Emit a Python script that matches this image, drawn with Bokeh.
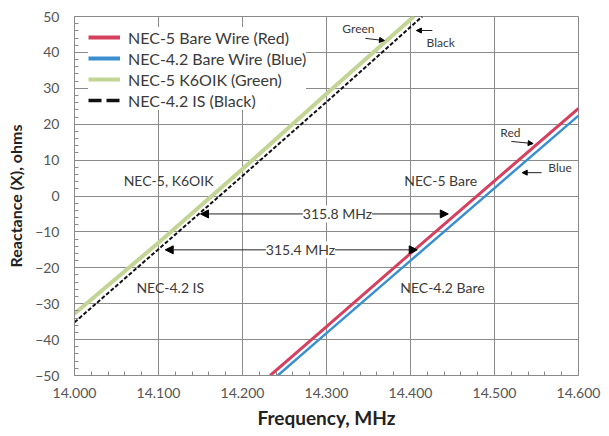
from bokeh.plotting import figure
from bokeh.models import (Range1d, FixedTicker, NumeralTickFormatter, Legend, LegendItem,
                          Label, Arrow, NormalHead)
from bokeh.embed import file_html
from bokeh.resources import INLINE

# ---- data ----
red_f = [14.233, 14.300, 14.400, 14.500, 14.600]
red_x = [-50.0, -36.4, -16.0, 4.2, 24.4]
blue_f = [14.242, 14.300, 14.400, 14.500, 14.600]
blue_x = [-50.0, -38.2, -18.0, 2.2, 22.4]
green_f = [14.000, 14.100, 14.200, 14.300, 14.404]
green_x = [-32.8, -13.0, 7.5, 28.5, 50.0]
black_f = [14.000, 14.100, 14.200, 14.300, 14.414]
black_x = [-35.2, -14.8, 5.6, 26.2, 50.0]

series_names = ["NEC-5 Bare Wire (Red)", "NEC-4.2 Bare Wire (Blue)",
                "NEC-5 K6OIK (Green)", "NEC-4.2 IS (Black)"]
x_ticks = [14.0, 14.1, 14.2, 14.3, 14.4, 14.5, 14.6]
y_ticks = [-50, -40, -30, -20, -10, 0, 10, 20, 30, 40, 50]

FONT = "Lato"
GRID = "#8a8a8a"
TXT = "#3a3a3a"
RED, BLUE, GREEN, BLACK = "#D6405F", "#3A8FD0", "#C2D594", "#111111"

p = figure(width=609, height=436, output_backend="svg", toolbar_location=None,
           x_range=Range1d(14.0, 14.6), y_range=Range1d(-50, 50),
           min_border_left=74, min_border_right=31, min_border_top=16, min_border_bottom=61,
           background_fill_color="white", border_fill_color="white")

p.outline_line_color = GRID
p.xgrid.grid_line_color = GRID
p.ygrid.grid_line_color = GRID

p.xaxis.ticker = FixedTicker(ticks=x_ticks, minor_ticks=[14.0 + 0.02 * i for i in range(31)])
p.yaxis.ticker = FixedTicker(ticks=y_ticks, minor_ticks=list(range(-50, 51, 2)))
p.xaxis.formatter = NumeralTickFormatter(format="0.000")

for ax in (p.xaxis, p.yaxis):
    ax.axis_line_color = GRID
    ax.major_tick_line_color = GRID
    ax.minor_tick_line_color = GRID
    ax.major_tick_in = 0
    ax.major_tick_out = 0
    ax.minor_tick_in = 4
    ax.minor_tick_out = 0
    ax.major_label_text_font = FONT
    ax.major_label_text_font_size = "14px"
    ax.major_label_text_color = "#555555"
    ax.axis_label_text_font = FONT
    ax.axis_label_text_font_style = "bold"
    ax.axis_label_text_color = "#222222"

p.xaxis.axis_label = "Frequency, MHz"
p.yaxis.axis_label = "Reactance (X), ohms"
p.xaxis.axis_label_text_font_size = "19px"
p.yaxis.axis_label_text_font_size = "16px"
p.xaxis.major_label_standoff = 12
p.xaxis.axis_label_standoff = 5
p.yaxis.major_label_standoff = 15
p.yaxis.axis_label_standoff = 7

g_green = p.line(green_f, green_x, line_color=GREEN, line_width=4)
g_black = p.line(black_f, black_x, line_color=BLACK, line_width=2, line_dash="4 2")
g_red = p.line(red_f, red_x, line_color=RED, line_width=3)
g_blue = p.line(blue_f, blue_x, line_color=BLUE, line_width=2.5)

# legend-only proxies (thicker strokes as in the reference legend); a single
# point line draws nothing on the plot itself
lg_red = p.line(red_f[:1], red_x[:1], line_color=RED, line_width=4)
lg_blue = p.line(blue_f[:1], blue_x[:1], line_color=BLUE, line_width=4)
lg_green = p.line(green_f[:1], green_x[:1], line_color=GREEN, line_width=4)
lg_black = p.line(black_f[:1], black_x[:1], line_color=BLACK, line_width=3.5, line_dash="13 5")

legend = Legend(items=[LegendItem(label=series_names[0], renderers=[lg_red]),
                       LegendItem(label=series_names[1], renderers=[lg_blue]),
                       LegendItem(label=series_names[2], renderers=[lg_green]),
                       LegendItem(label=series_names[3], renderers=[lg_black])],
                location=(14, 265), margin=0, padding=8, spacing=1,
                glyph_width=32, glyph_height=20, label_height=20, label_standoff=8,
                label_text_font=FONT, label_text_font_size="16px", label_text_color=TXT,
                border_line_color=None, background_fill_color="white", background_fill_alpha=1.0)
p.add_layout(legend, "center")

def lab(x, y, t, size="14px", align="center"):
    p.add_layout(Label(x=x, y=y, text=t, text_font=FONT, text_font_size=size,
                       text_color=TXT, text_align=align, text_baseline="middle"))

lab(14.112, 4.3, "NEC-5, K6OIK")
lab(14.436, 4.3, "NEC-5 Bare")
lab(14.114, -25.5, "NEC-4.2 IS")
lab(14.438, -25.5, "NEC-4.2 Bare")
lab(14.338, 46.7, "Green", "12px")
lab(14.436, 42.8, "Black", "12px")
lab(14.519, 17.6, "Red", "12px")
lab(14.578, 7.9, "Blue", "12px")

def arr(x0, y0, x1, y1, size=5, both=False):
    kw = dict(end=NormalHead(size=size, fill_color="black", line_color="black"))
    if both:
        kw["start"] = NormalHead(size=size, fill_color="black", line_color="black")
    else:
        kw["start"] = None
    p.add_layout(Arrow(x_start=x0, y_start=y0, x_end=x1, y_end=y1,
                       line_color="#222222", line_width=1, **kw))

arr(14.3464, 43.9, 14.369, 43.3)
arr(14.426, 46.1, 14.407, 46.1)
arr(14.520, 15.2, 14.546, 14.6)
arr(14.556, 6.5, 14.533, 6.5)

arr(14.150, -5, 14.445, -5, size=8, both=True)
arr(14.108, -15, 14.408, -15, size=8, both=True)

for x, y, t in [(14.313, -5, "315.8 MHz"), (14.269, -15, "315.4 MHz")]:
    p.add_layout(Label(x=x, y=y, text=t, text_font=FONT, text_font_size="14px",
                       text_color=TXT, text_align="center", text_baseline="middle",
                       background_fill_color="white", background_fill_alpha=1.0))

open("out.html", "w").write(file_html(p, INLINE))
